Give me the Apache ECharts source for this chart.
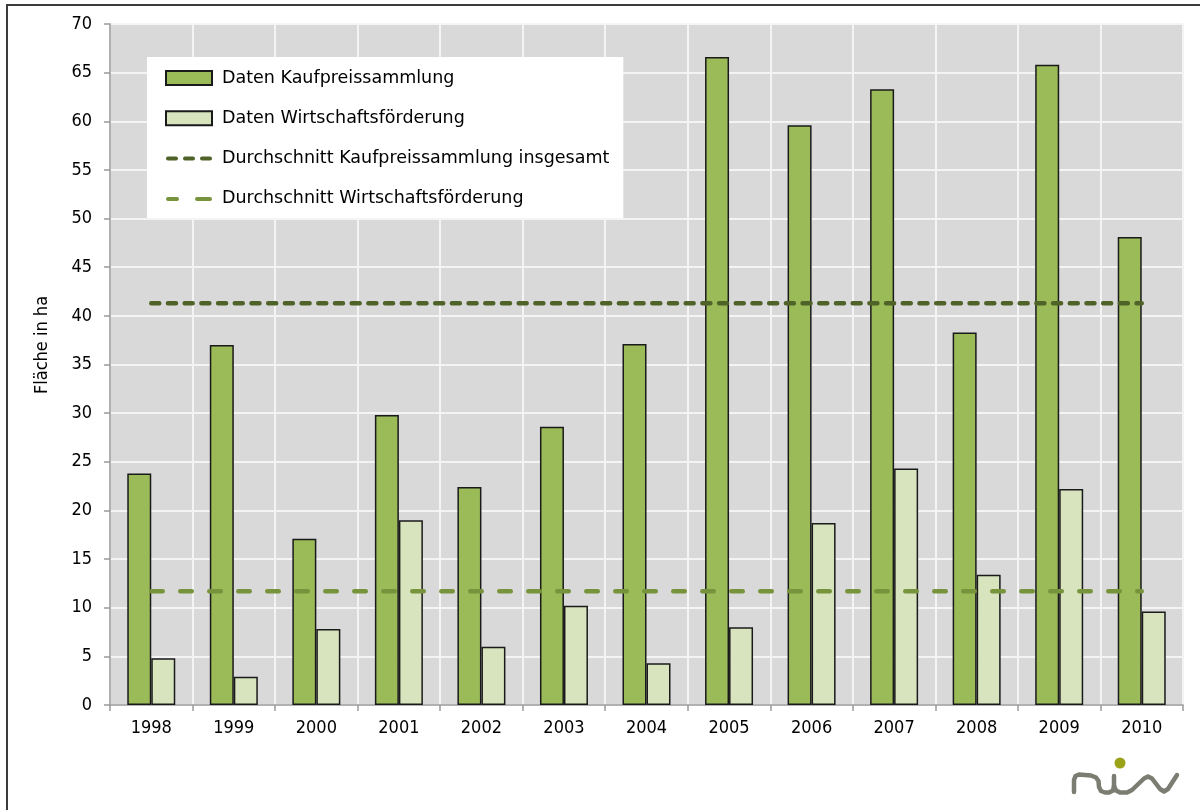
<!DOCTYPE html>
<html>
<head>
<meta charset="utf-8">
<script src="https://cdn.jsdelivr.net/npm/echarts@6/dist/echarts.min.js"></script>
<style>
  html, body { margin: 0; padding: 0; background: #ffffff; }
  #chart { width: 1200px; height: 810px; }
</style>
</head>
<body>
<div id="chart"></div>
<script>
// Jahre (Kategorien)
const years = ['1998', '1999', '2000', '2001', '2002', '2003', '2004', '2005', '2006', '2007', '2008', '2009', '2010'];
// Fläche in ha laut Kaufpreissammlung
const kaufpreis = [23.8, 37.0, 17.1, 29.8, 22.4, 28.6, 37.1, 66.6, 59.6, 63.3, 38.3, 65.8, 48.1];
// Fläche in ha laut Wirtschaftsförderung
const wirtschaft = [4.8, 2.9, 7.8, 19.0, 6.0, 10.2, 4.3, 8.0, 18.7, 24.3, 13.4, 22.2, 9.6];
// Durchschnittswerte
const avgKaufpreis = 41.3;
const avgWirtschaft = 11.7;
// Beschriftungen
const seriesNames = [
  'Daten Kaufpreissammlung',
  'Daten Wirtschaftsförderung',
  'Durchschnitt Kaufpreissammlung insgesamt',
  'Durchschnitt Wirtschaftsförderung'
];
const yAxisTitle = 'Fläche in ha';

const FONT = 'DejaVu Sans';
const FONT_NUM = '"DejaVu Sans Condensed", "DejaVu Sans"';
const DARK = '#4f6228';
const LIGHT = '#77933c';
const LOGO_GREY = '#7b7c72';

const chart = echarts.init(document.getElementById('chart'), null, { renderer: 'canvas' });

chart.setOption({
  animation: false,
  backgroundColor: '#ffffff',
  textStyle: { fontFamily: FONT },
  grid: {
    left: 110, right: 17, top: 24, bottom: 105,
    show: true, backgroundColor: '#d9d9d9', borderWidth: 0
  },
  legend: {
    orient: 'vertical',
    left: 147, top: 57,
    backgroundColor: '#ffffff',
    padding: [12, 14, 10, 18],
    itemWidth: 46, itemHeight: 14, itemGap: 22.3,
    symbolKeepAspect: true,
    textStyle: { fontFamily: FONT, fontSize: 17.5, color: '#000000', padding: [0, 0, 0, 5] },
    data: [
      { name: seriesNames[0], icon: 'rect' },
      { name: seriesNames[1], icon: 'rect' },
      {
        name: seriesNames[2],
        icon: 'path://M2,0h8a2,2 0 0 1 0,4h-8a2,2 0 0 1 0,-4z M19,0h8a2,2 0 0 1 0,4h-8a2,2 0 0 1 0,-4z M36,0h8a2,2 0 0 1 0,4h-8a2,2 0 0 1 0,-4z',
        itemStyle: { color: DARK, borderWidth: 0 }
      },
      {
        name: seriesNames[3],
        icon: 'path://M2,0h9a2,2 0 0 1 0,4h-9a2,2 0 0 1 0,-4z M31,0h13a2,2 0 0 1 0,4h-13a2,2 0 0 1 0,-4z',
        itemStyle: { color: LIGHT, borderWidth: 0 }
      }
    ]
  },
  xAxis: {
    type: 'category',
    data: years,
    boundaryGap: true,
    axisLine: { lineStyle: { color: '#9a9a9a', width: 1.5 } },
    axisTick: { show: true, length: 6, lineStyle: { color: '#9a9a9a', width: 1.5 } },
    splitLine: { show: true, lineStyle: { color: '#f4f4f4', width: 2 } },
    axisLabel: { fontFamily: FONT_NUM, fontSize: 18, color: '#000000', margin: 14 }
  },
  yAxis: {
    type: 'value',
    min: 0, max: 70, interval: 5,
    axisLine: { show: true, lineStyle: { color: '#9a9a9a', width: 1.5 } },
    axisTick: { show: true, length: 6, lineStyle: { color: '#9a9a9a', width: 1.5 } },
    splitLine: { show: true, lineStyle: { color: '#f4f4f4', width: 2 } },
    axisLabel: { fontFamily: FONT_NUM, fontSize: 18, color: '#000000', margin: 18 }
  },
  series: [
    {
      name: seriesNames[0], type: 'bar', data: kaufpreis,
      barWidth: 24, barGap: '0%',
      itemStyle: { color: '#9bbb59', borderColor: '#1a1a1a', borderWidth: 1.5 }
    },
    {
      name: seriesNames[1], type: 'bar', data: wirtschaft,
      barWidth: 24, barGap: '0%',
      itemStyle: { color: '#d7e4bd', borderColor: '#1a1a1a', borderWidth: 1.5 }
    },
    {
      name: seriesNames[2], type: 'line',
      data: years.map(() => avgKaufpreis),
      symbol: 'none', silent: true, z: 5,
      itemStyle: { color: DARK },
      lineStyle: { color: DARK, width: 4.5, type: [8, 8.7], cap: 'round' }
    },
    {
      name: seriesNames[3], type: 'line',
      data: years.map(() => avgWirtschaft),
      symbol: 'none', silent: true, z: 5,
      itemStyle: { color: LIGHT },
      lineStyle: { color: LIGHT, width: 4.5, type: [11.5, 17.5], cap: 'round' }
    }
  ],
  graphic: [
    // Rahmen
    {
      type: 'rect', silent: true, z: -1,
      shape: { x: 7, y: 5, width: 1260, height: 900 },
      style: { fill: null, stroke: '#3c3c3c', lineWidth: 2 }
    },
    // Achsentitel
    {
      type: 'text', x: 42, y: 345, rotation: Math.PI / 2,
      style: {
        text: yAxisTitle, fontFamily: FONT_NUM, fontSize: 18, fill: '#000000',
        align: 'center', verticalAlign: 'middle'
      }
    },
    // Logo "niw"
    {
      type: 'group', silent: true,
      children: [
        {
          type: 'polyline',
          shape: {
            points: [[1074, 792], [1074, 780], [1075.5, 776], [1079, 774.5], [1091, 775.5], [1096, 777.5], [1098.5, 781],
                     [1099, 787], [1101, 791], [1105, 792.5], [1109, 792.5], [1113, 790.5], [1114, 786], [1114, 776]]
          },
          style: { stroke: LOGO_GREY, lineWidth: 4.5, fill: null, lineJoin: 'round', lineCap: 'round' }
        },
        {
          type: 'polyline',
          shape: {
            points: [[1114, 786], [1116, 790.5], [1120, 792.5], [1127, 792.5], [1132, 790], [1144, 778.5], [1148, 776.5],
                     [1152, 778.5], [1160, 789], [1164, 791.5], [1168, 789], [1177, 775]]
          },
          style: { stroke: LOGO_GREY, lineWidth: 4.5, fill: null, lineJoin: 'round', lineCap: 'round' }
        },
        {
          type: 'circle',
          shape: { cx: 1120, cy: 763, r: 5.5 },
          style: { fill: '#9aa318' }
        }
      ]
    }
  ]
});
</script>
</body>
</html>
